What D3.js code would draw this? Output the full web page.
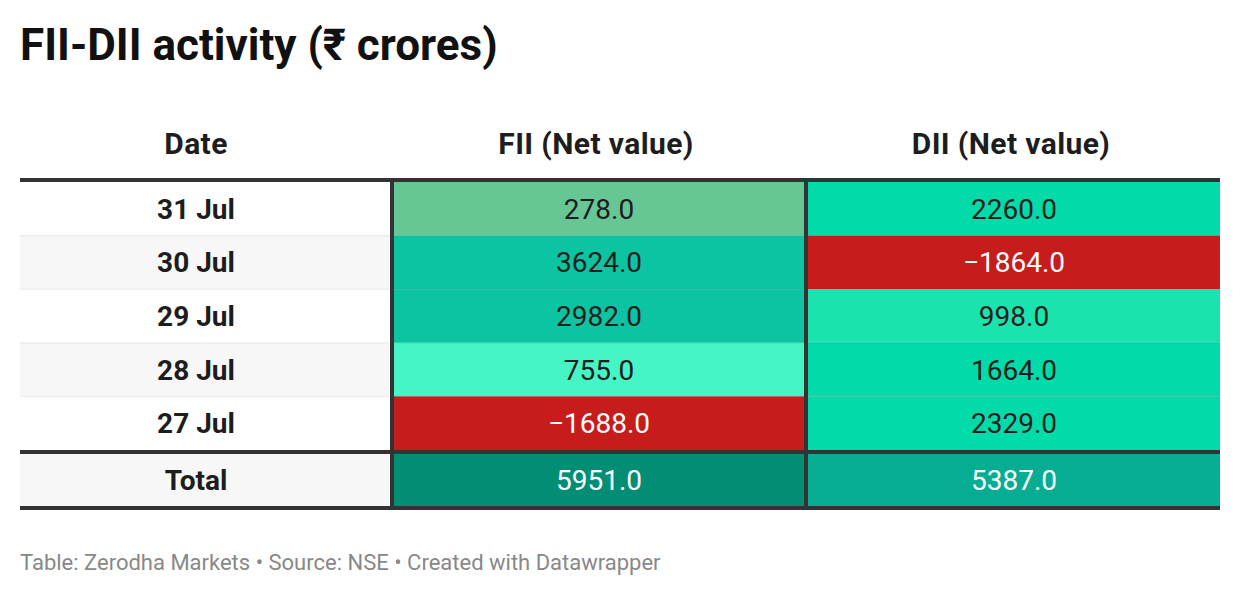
<!DOCTYPE html>
<html>
<head>
<meta charset="utf-8">
<script src="https://cdn.jsdelivr.net/npm/d3@7"></script>
<style>
  html, body { margin: 0; padding: 0; background: #fff; }
  svg { display: block; font-family: Roboto, "Noto Sans", sans-serif; }
</style>
</head>
<body>
<svg id="chart" width="1240" height="596"></svg>
<script>
// ---- data ----
const dates = ["31 Jul", "30 Jul", "29 Jul", "28 Jul", "27 Jul"];
const fiiValues = [278.0, 3624.0, 2982.0, 755.0, -1688.0];
const diiValues = [2260.0, -1864.0, 998.0, 1664.0, 2329.0];
const totalLabel = "Total";
const fiiTotal = 5951.0;
const diiTotal = 5387.0;
const headers = ["Date", "FII (Net value)", "DII (Net value)"];
const titleText = "FII-DII activity (₹ crores)";
const footerText = "Table: Zerodha Markets • Source: NSE • Created with Datawrapper";

// colour scale (stepped)
const colorBreaks = [0, 500, 900, 1200, 2500, 5000, 5500];
const colorSteps = ["#c71c1c", "#66c795", "#45f5c5", "#1ae3ae", "#00dba9", "#0bc4a1", "#06ad93", "#028e74"];
const color = d3.scaleThreshold().domain(colorBreaks).range(colorSteps);
const textColor = v => (v < 0 || v >= 5000) ? "#ffffff" : "#1d1d1d";
const fmt = d3.format(".1f");

const svg = d3.select("#chart");
const X0 = 20, X1 = 1220;
const colEdges = [[20, 390], [394, 804], [808, 1220]];
const border = "#333333";
const bodySize = 28;

// title
svg.append("text").attr("x", 20).attr("y", 60)
  .attr("font-size", 44).attr("font-weight", 700).attr("fill", "#111")
  .text(titleText);

// headers
headers.forEach((h, i) => {
  const cx = i === 0 ? 196 : (colEdges[i][0] + colEdges[i][1]) / 2 - 3;
  svg.append("text").attr("x", cx).attr("y", 154).attr("text-anchor", "middle")
    .attr("font-size", 30).attr("font-weight", 700).attr("letter-spacing", 0.4).attr("fill", "#1d1d1d")
    .text(h);
});

// rows
const y = d3.scaleBand().domain(dates).range([182, 450]);
const rows = dates.map((d, i) => ({ date: d, fii: fiiValues[i], dii: diiValues[i], i }));

const g = svg.append("g");
const rowG = g.selectAll("g.row").data(rows).enter().append("g").attr("class", "row");

rowG.append("rect").attr("x", colEdges[0][0]).attr("width", colEdges[0][1] - colEdges[0][0])
  .attr("y", d => y(d.date)).attr("height", y.bandwidth())
  .attr("fill", d => d.i % 2 === 1 ? "#f7f7f7" : "#ffffff");
rowG.append("rect").attr("x", colEdges[1][0]).attr("width", colEdges[1][1] - colEdges[1][0])
  .attr("y", d => y(d.date)).attr("height", y.bandwidth())
  .attr("fill", d => color(d.fii));
rowG.append("rect").attr("x", colEdges[2][0]).attr("width", colEdges[2][1] - colEdges[2][0])
  .attr("y", d => y(d.date)).attr("height", y.bandwidth())
  .attr("fill", d => color(d.dii));

// row separators
rowG.filter(d => d.i > 0).append("rect")
  .attr("x", X0).attr("width", X1 - X0)
  .attr("y", d => y(d.date) - 0.5).attr("height", 1.2)
  .attr("fill", "rgba(0,0,0,0.07)");

const cy = d => y(d.date) + y.bandwidth() / 2 + 10;
rowG.append("text").attr("x", 196).attr("y", cy).attr("text-anchor", "middle")
  .attr("font-size", bodySize).attr("font-weight", 700).attr("fill", "#1d1d1d")
  .text(d => d.date);
rowG.append("text").attr("x", (colEdges[1][0] + colEdges[1][1]) / 2).attr("y", cy).attr("text-anchor", "middle")
  .attr("font-size", bodySize).attr("fill", d => textColor(d.fii))
  .text(d => fmt(d.fii));
rowG.append("text").attr("x", (colEdges[2][0] + colEdges[2][1]) / 2).attr("y", cy).attr("text-anchor", "middle")
  .attr("font-size", bodySize).attr("fill", d => textColor(d.dii))
  .text(d => fmt(d.dii));

// total row
const tY0 = 454, tY1 = 506;
const tcy = (tY0 + tY1) / 2 + 10;
g.append("rect").attr("x", colEdges[0][0]).attr("width", colEdges[0][1] - colEdges[0][0])
  .attr("y", tY0).attr("height", tY1 - tY0).attr("fill", "#f7f7f7");
g.append("rect").attr("x", colEdges[1][0]).attr("width", colEdges[1][1] - colEdges[1][0])
  .attr("y", tY0).attr("height", tY1 - tY0).attr("fill", color(fiiTotal));
g.append("rect").attr("x", colEdges[2][0]).attr("width", colEdges[2][1] - colEdges[2][0])
  .attr("y", tY0).attr("height", tY1 - tY0).attr("fill", color(diiTotal));
g.append("text").attr("x", 196).attr("y", tcy).attr("text-anchor", "middle")
  .attr("font-size", bodySize).attr("font-weight", 700).attr("fill", "#1d1d1d").text(totalLabel);
g.append("text").attr("x", (colEdges[1][0] + colEdges[1][1]) / 2).attr("y", tcy).attr("text-anchor", "middle")
  .attr("font-size", bodySize).attr("fill", textColor(fiiTotal)).text(fmt(fiiTotal));
g.append("text").attr("x", (colEdges[2][0] + colEdges[2][1]) / 2).attr("y", tcy).attr("text-anchor", "middle")
  .attr("font-size", bodySize).attr("fill", textColor(diiTotal)).text(fmt(diiTotal));

// borders
const b = svg.append("g").attr("fill", border);
b.append("rect").attr("x", X0).attr("y", 178).attr("width", X1 - X0).attr("height", 4);
b.append("rect").attr("x", X0).attr("y", 450).attr("width", X1 - X0).attr("height", 4);
b.append("rect").attr("x", X0).attr("y", 506).attr("width", X1 - X0).attr("height", 4);
b.append("rect").attr("x", 390).attr("y", 178).attr("width", 4).attr("height", 332);
b.append("rect").attr("x", 804).attr("y", 178).attr("width", 4).attr("height", 332);

// footer
svg.append("text").attr("x", 20).attr("y", 570)
  .attr("font-size", 22).attr("fill", "#888888")
  .text(footerText);
</script>
</body>
</html>
